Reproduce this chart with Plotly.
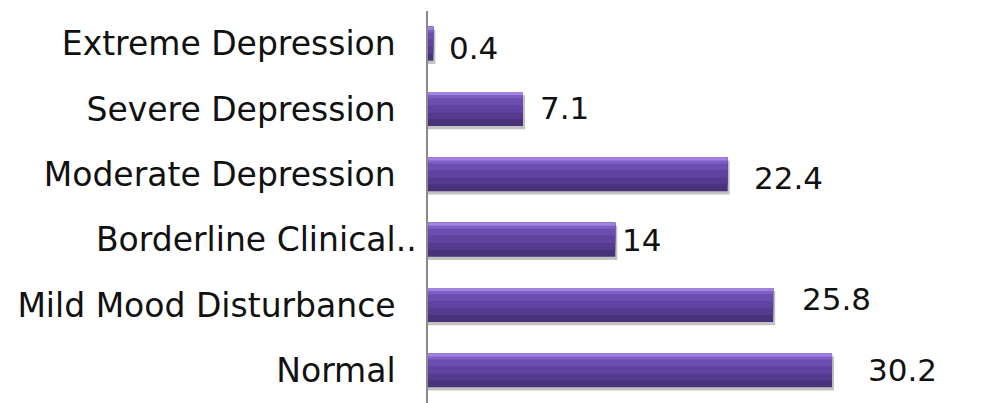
import plotly.graph_objects as go

# Data (bottom to top, as drawn)
categories = ["Normal", "Mild Mood Disturbance", "Borderline Clinical..",
              "Moderate Depression", "Severe Depression", "Extreme Depression"]
values = [30.2, 25.8, 14, 22.4, 7.1, 0.4]

# Style
FONT = "DejaVu Sans"
FSIZE = 33
VSIZE = 31
W = 0.52  # bar thickness in category units
NBSP = "\u00a0"
tick_text = [c if c.endswith("..") else c + NBSP * 2 for c in categories]
label_xshift = [34, 27, 5, 24, 15, 14]
label_yshift = [0, 6, 0, -4, 1, -4]

fig = go.Figure()

# soft shadow
fig.add_trace(go.Bar(y=categories, x=[v + 0.15 for v in values], orientation="h",
                     width=W, offset=-W / 2 - 0.05,
                     marker=dict(color="rgba(120,120,120,0.45)", line=dict(width=0)),
                     hoverinfo="skip"))
# gradient layers (dark bottom -> light top)
layers = [
    (1.00, "#48327a"),
    (0.80, "#553b8f"),
    (0.60, "#5e43a0"),
    (0.38, "#6a4eb0"),
    (0.18, "#7d5fc6"),
    (0.09, "#a283df"),
]
for frac, col in layers:
    fig.add_trace(go.Bar(y=categories, x=values, orientation="h",
                         width=W * frac, offset=W / 2 - W * frac,
                         marker=dict(color=col, line=dict(width=0)),
                         hoverinfo="skip"))

for c, v, dx, dy in zip(categories, values, label_xshift, label_yshift):
    fig.add_annotation(x=v, y=c, xref="x", yref="y", text=f"{v:g}",
                       showarrow=False, xanchor="left", yanchor="middle",
                       xshift=dx, yshift=dy,
                       font=dict(family=FONT, size=VSIZE, color="#111111"))

fig.update_layout(
    width=999, height=403,
    margin=dict(l=428, r=0, t=11, b=0),
    barmode="overlay",
    showlegend=False,
    plot_bgcolor="white", paper_bgcolor="white",
    xaxis=dict(range=[0, 42.68], visible=False, fixedrange=True),
    yaxis=dict(categoryorder="array", categoryarray=categories,
               tickmode="array", tickvals=categories, ticktext=tick_text,
               showline=True, linecolor="#8a8a8a", linewidth=1.5,
               ticks="", showgrid=False, zeroline=False,
               ticklabelstandoff=3,
               tickfont=dict(family=FONT, size=FSIZE, color="#111111")),
)

fig.write_html("out.html")
